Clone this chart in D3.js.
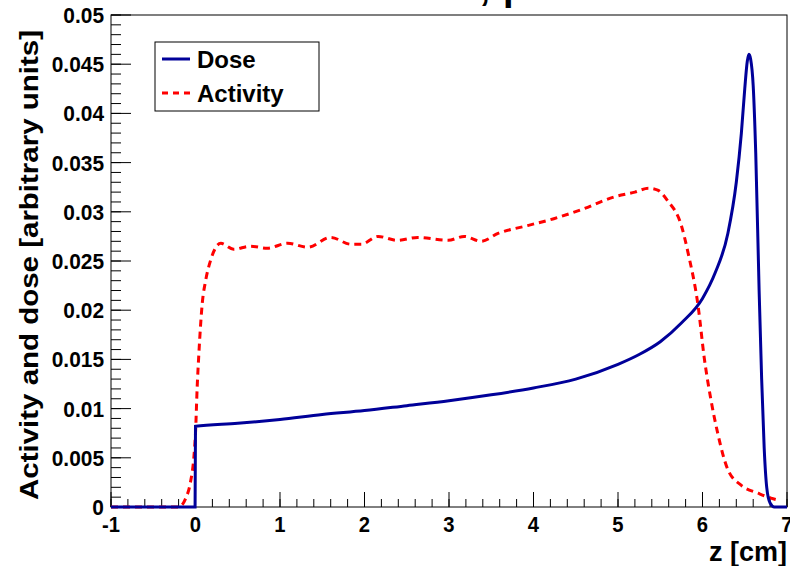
<!DOCTYPE html>
<html>
<head>
<meta charset="utf-8">
<script src="https://cdn.jsdelivr.net/npm/d3@7"></script>
<style>
  html, body { margin: 0; padding: 0; background: #fff; }
  svg { display: block; }
  text { font-family: "Liberation Sans", Arial, Helvetica, sans-serif; font-weight: bold; }
</style>
</head>
<body>
<script>
// ---- data ----
const doseZ = [-1, -0.005, 0, 0.5, 1, 1.5, 2, 2.5, 3, 3.5, 4, 4.5, 5.0, 5.25, 5.5, 5.75, 6.0, 6.15, 6.3, 6.4, 6.46, 6.5, 6.53, 6.55, 6.57, 6.60, 6.63, 6.67, 6.70, 6.73, 6.76, 6.80, 6.85, 7];
const doseV = [0, 0, 0.0082, 0.0085, 0.0089, 0.0094, 0.0098, 0.0103, 0.0108, 0.0114, 0.0121, 0.0130, 0.0145, 0.0155, 0.0168, 0.0187, 0.0212, 0.0238, 0.0278, 0.0330, 0.0380, 0.0425, 0.0453, 0.0460, 0.0455, 0.0428, 0.0360, 0.0220, 0.0130, 0.0060, 0.0020, 0.0004, 0, 0];

const actZ = [-1, -0.2, -0.12, -0.06, -0.02, 0, 0.02, 0.04, 0.08, 0.12, 0.18, 0.30, 0.45, 0.65, 0.85, 1.09, 1.33, 1.60, 1.84, 1.96, 2.16, 2.39, 2.63, 2.99, 3.18, 3.38, 3.58, 3.93, 4.24, 4.56, 4.95, 5.20, 5.36, 5.47, 5.59, 5.75, 5.83, 5.95, 6.02, 6.10, 6.18, 6.30, 6.46, 6.66, 6.81, 6.90];
const actV = [0, 0, 0.0008, 0.0025, 0.0050, 0.0075, 0.0122, 0.0156, 0.0207, 0.0230, 0.0251, 0.0268, 0.0262, 0.0265, 0.0263, 0.0268, 0.0264, 0.0274, 0.0267, 0.0267, 0.0275, 0.0271, 0.0274, 0.0271, 0.0275, 0.0270, 0.0278, 0.0286, 0.0293, 0.0302, 0.0315, 0.0320, 0.0324, 0.0322, 0.0311, 0.0286, 0.0258, 0.0203, 0.0152, 0.0109, 0.0075, 0.0038, 0.0022, 0.0014, 0.0009, 0.0007];

const xTicks = [-1, 0, 1, 2, 3, 4, 5, 6, 7];
const xTickLabels = ["-1", "0", "1", "2", "3", "4", "5", "6", "7"];
const yTicks = [0, 0.005, 0.01, 0.015, 0.02, 0.025, 0.03, 0.035, 0.04, 0.045, 0.05];
const yTickLabels = ["0", "0.005", "0.01", "0.015", "0.02", "0.025", "0.03", "0.035", "0.04", "0.045", "0.05"];
const seriesNames = ["Dose", "Activity"];
const titleLeft = "PMMA,";
const titleRight = "proton 100 MeV";
const xTitle = "z [cm]";
const yTitle = "Activity and dose [arbitrary units]";

// ---- layout ----
const W = 790, H = 566;
const L = 111, R = 787, T = 15, B = 507;

const svg = d3.select("body").append("svg").attr("width", W).attr("height", H);

const x = d3.scaleLinear().domain([-1, 7]).range([L, R]);
const y = d3.scaleLinear().domain([0, 0.05]).range([B, T]);

// title (cut off at the top edge, as in the reference)
svg.append("text").attr("x", 490).attr("y", 0).attr("text-anchor", "end")
  .style("font-size", "38px").text(titleLeft);
svg.append("text").attr("x", 503).attr("y", 0).attr("text-anchor", "start")
  .style("font-size", "38px").text(titleRight);

// frame
svg.append("rect").attr("x", L).attr("y", T).attr("width", R - L).attr("height", B - T)
  .attr("fill", "none").attr("stroke", "#000").attr("stroke-width", 1);

// x ticks (inside, upward)
const xMinor = d3.range(-1, 7.0001, 0.2);
const gx = svg.append("g");
gx.selectAll("line.minor").data(xMinor).enter().append("line")
  .attr("x1", d => x(d)).attr("x2", d => x(d))
  .attr("y1", B).attr("y2", B - 8).attr("stroke", "#000").attr("stroke-width", 1);
gx.selectAll("line.major").data(xTicks).enter().append("line")
  .attr("x1", d => x(d)).attr("x2", d => x(d))
  .attr("y1", B).attr("y2", B - 15).attr("stroke", "#000").attr("stroke-width", 1);
gx.selectAll("text").data(xTicks).enter().append("text")
  .attr("transform", d => `translate(${x(d)},${B + 25}) scale(0.92,1)`)
  .attr("text-anchor", "middle").style("font-size", "22px").text((d, i) => xTickLabels[i]);

// y ticks (inside, rightward)
const yMinor = d3.range(0, 0.05001, 0.001);
const gy = svg.append("g");
gy.selectAll("line.minor").data(yMinor).enter().append("line")
  .attr("x1", L).attr("x2", L + 10)
  .attr("y1", d => y(d)).attr("y2", d => y(d)).attr("stroke", "#000").attr("stroke-width", 1);
gy.selectAll("line.major").data(yTicks).enter().append("line")
  .attr("x1", L).attr("x2", L + 20)
  .attr("y1", d => y(d)).attr("y2", d => y(d)).attr("stroke", "#000").attr("stroke-width", 1);
gy.selectAll("text").data(yTicks).enter().append("text")
  .attr("transform", d => `translate(${L - 7},${y(d) + 8}) scale(0.95,1)`)
  .attr("text-anchor", "end").style("font-size", "22px").text((d, i) => yTickLabels[i]);

// axis titles
svg.append("text").attr("x", R).attr("y", 561).attr("text-anchor", "end")
  .style("font-size", "27px").text(xTitle);
svg.append("text").attr("transform", `translate(38,${T + 15}) rotate(-90)`)
  .attr("text-anchor", "end").style("font-size", "26px")
  .attr("textLength", 470).attr("lengthAdjust", "spacingAndGlyphs").text(yTitle);

// curves
svg.append("clipPath").attr("id", "plotclip").append("rect")
  .attr("x", L).attr("y", T).attr("width", R - L).attr("height", B - T + 2);

const line = d3.line().x(d => x(d[0])).y(d => y(d[1])).curve(d3.curveMonotoneX);
const doseData = doseZ.map((z, i) => [z, doseV[i]]);
const actData = actZ.map((z, i) => [z, actV[i]]);

svg.append("path").datum(actData).attr("d", line)
  .attr("fill", "none").attr("stroke", "#ff0000").attr("stroke-width", 3)
  .attr("stroke-dasharray", "7,5").attr("clip-path", "url(#plotclip)");
svg.append("path").datum(doseData).attr("d", line)
  .attr("fill", "none").attr("stroke", "#000099").attr("stroke-width", 3)
  .attr("clip-path", "url(#plotclip)");

// legend
const lg = svg.append("g");
lg.append("rect").attr("x", 155).attr("y", 42).attr("width", 164).attr("height", 69)
  .attr("fill", "#fff").attr("stroke", "#000").attr("stroke-width", 1);
lg.append("line").attr("x1", 162).attr("x2", 190).attr("y1", 59).attr("y2", 59)
  .attr("stroke", "#000099").attr("stroke-width", 3);
lg.append("line").attr("x1", 162).attr("x2", 190).attr("y1", 93).attr("y2", 93)
  .attr("stroke", "#ff0000").attr("stroke-width", 3).attr("stroke-dasharray", "6,5");
lg.append("text").attr("x", 197).attr("y", 68).style("font-size", "24px").text(seriesNames[0]);
lg.append("text").attr("x", 197).attr("y", 102).style("font-size", "24px").text(seriesNames[1]);
</script>
</body>
</html>
